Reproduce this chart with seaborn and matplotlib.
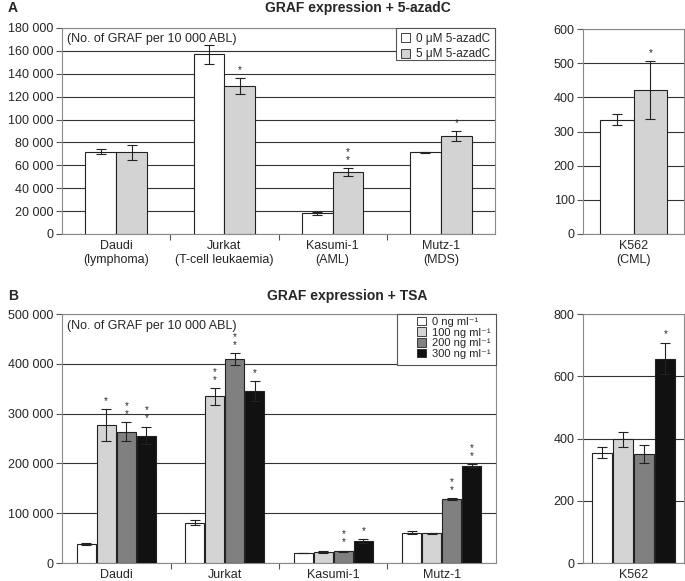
import pandas as pd
import matplotlib.pyplot as plt
import seaborn as sns
from matplotlib.ticker import FuncFormatter, FixedLocator, MultipleLocator
from matplotlib.patches import Patch, Rectangle
from matplotlib.container import BarContainer

sns.set_theme(style="white")
plt.rcParams['font.family'] = ['Liberation Sans', 'DejaVu Sans']

# ---- panel A: 5-azadC ----
cells_a = ["Daudi\n(lymphoma)", "Jurkat\n(T-cell leukaemia)", "Kasumi-1\n(AML)", "Mutz-1\n(MDS)"]
doses_a = ["0 μM 5-azadC", "5 μM 5-azadC"]
mean_a = [[72000, 157000, 18000, 71500],
          [71500, 129000, 54000, 85500]]
err_a = [[2500, 8500, 1500, 500],
         [6500, 7000, 3500, 4500]]
stars_a = [["", "", "", ""],
           ["", "*", "**", "*"]]
k562_a = ["K562\n(CML)"]
k562_mean_a = [[335], [422]]
k562_err_a = [[17], [85]]
k562_stars_a = [[""], ["*"]]
colors_a = ["white", "#d3d3d3"]

# ---- panel B: TSA ----
cells_b = ["Daudi", "Jurkat", "Kasumi-1", "Mutz-1"]
doses_b = ["0 ng ml⁻¹", "100 ng ml⁻¹", "200 ng ml⁻¹", "300 ng ml⁻¹"]
mean_b = [[38000, 81000, 20000, 61000],
          [277000, 335000, 22000, 60000],
          [264000, 410000, 24000, 129000],
          [256000, 346000, 45000, 195000]]
err_b = [[2000, 5000, 500, 3000],
         [32000, 17000, 2000, 1000],
         [20000, 12000, 1000, 2000],
         [18000, 20000, 4000, 3000]]
stars_b = [["", "", "", ""],
           ["*", "**", "", ""],
           ["**", "**", "**", "**"],
           ["**", "*", "*", "**"]]
k562_b = ["K562"]
k562_mean_b = [[355], [397], [350], [657]]
k562_err_b = [[18], [25], [30], [50]]
k562_stars_b = [[""], [""], [""], ["*"]]
colors_b = ["white", "#d4d4d4", "#808080", "#111111"]


def long_df(cells, doses, means):
    rows = []
    for h, d in enumerate(doses):
        for i, c in enumerate(cells):
            rows.append({"cell": c, "dose": d, "value": means[h][i]})
    return pd.DataFrame(rows)


def draw(ax, cells, doses, means, errs, stars, colors, width, gap, ymax, step, star_off):
    df = long_df(cells, doses, means)
    sns.barplot(data=df, x="cell", y="value", hue="dose", order=cells, hue_order=doses,
                palette=colors, width=width, gap=gap, errorbar=None, legend=False,
                edgecolor="#222222", linewidth=0.8, saturation=1, ax=ax, zorder=3)
    bar_conts = [c for c in ax.containers if isinstance(c, BarContainer)]
    for h, cont in enumerate(bar_conts):
        bars = sorted(cont.patches, key=lambda p: p.get_x())
        for i, bar in enumerate(bars):
            xc = bar.get_x() + bar.get_width() / 2
            yv = bar.get_height()
            e = errs[h][i]
            ax.errorbar(xc, yv, yerr=e, color="#222222", lw=0.8, capsize=3.5,
                        capthick=0.8, zorder=4)
            s = stars[h][i]
            if s:
                ax.text(xc, yv + e + star_off, "\n".join(s), ha="center", va="bottom",
                        fontsize=7, linespacing=0.75, zorder=7)
    ax.set_ylim(0, ymax)
    ax.yaxis.set_major_locator(MultipleLocator(step))
    ax.yaxis.set_major_formatter(FuncFormatter(lambda v, p: f"{int(v):,}".replace(",", " ")))
    ax.grid(axis="y", color="#333333", lw=0.8, zorder=0)
    ax.set_axisbelow(True)
    ax.set_xlabel("")
    ax.set_ylabel("")
    for sp in ax.spines.values():
        sp.set_color("#8a8a8a")
        sp.set_linewidth(0.8)
    ax.tick_params(axis="y", left=True, length=4, width=0.8, color="#555555",
                   labelsize=9, pad=2)
    ax.tick_params(axis="x", bottom=False, length=0, labelsize=9, pad=4)
    for lab in ax.get_xticklabels():
        lab.set_linespacing(1.25)
    n = len(cells)
    ax.set_xlim(-0.5, n - 0.5)
    if n > 1:
        ax.xaxis.set_minor_locator(FixedLocator([k + 0.5 for k in range(n - 1)]))
        ax.tick_params(axis="x", which="minor", bottom=True, length=4, width=0.8,
                       color="#555555")


fig = plt.figure(figsize=(6.85, 5.81), dpi=100)
W, H = 685, 581


def axes_px(x0, y0, x1, y1):
    return fig.add_axes([x0 / W, 1 - y1 / H, (x1 - x0) / W, (y1 - y0) / H])


axA = axes_px(62, 28, 495, 234)
axA2 = axes_px(583, 29, 684, 234)
axB = axes_px(62, 314, 496, 563)
axB2 = axes_px(583, 314, 684, 563)

draw(axA, cells_a, doses_a, mean_a, err_a, stars_a, colors_a, 0.57, 0, 180000, 20000, 2500)
draw(axA2, k562_a, doses_a, k562_mean_a, k562_err_a, k562_stars_a, colors_a, 0.67, 0, 600, 100, 8)
draw(axB, cells_b, doses_b, mean_b, err_b, stars_b, colors_b, 0.74, 0.06, 500000, 100000, 6000)
draw(axB2, k562_b, doses_b, k562_mean_b, k562_err_b, k562_stars_b, colors_b, 0.84, 0.04, 800, 200, 12)

for ax in (axA, axB):
    ax.text(0.012, 0.975, "(No. of GRAF per 10 000 ABL)", transform=ax.transAxes,
            ha="left", va="top", fontsize=9, zorder=6)


def legend_box(ax, x0, y0, x1, y1):
    # legend frame, in pixel coords of the figure
    bb = ax.get_position()
    ax0 = (x0 / W - bb.x0) / bb.width
    ax1 = (x1 / W - bb.x0) / bb.width
    ay0 = ((1 - y1 / H) - bb.y0) / bb.height
    ay1 = ((1 - y0 / H) - bb.y0) / bb.height
    ax.add_patch(Rectangle((ax0, ay0), ax1 - ax0, ay1 - ay0, transform=ax.transAxes,
                           facecolor="white", edgecolor="#555555", lw=0.8, zorder=5,
                           clip_on=False))
    return ax0, ay1


lx, ly = legend_box(axA, 396, 28, 495, 60)
legA = axA.legend(handles=[Patch(facecolor=c, edgecolor="#222222", lw=0.6, label=l)
                           for c, l in zip(colors_a, doses_a)],
                  loc="upper left", bbox_to_anchor=(lx, ly), fontsize=8.5, frameon=False,
                  borderaxespad=0, handlelength=0.8, handleheight=0.8,
                  handletextpad=0.5, labelspacing=0.3, borderpad=0.4)
legA.set_zorder(6)

lx, ly = legend_box(axB, 397, 314, 496, 365)
legB = axB.legend(handles=[Patch(facecolor=c, edgecolor="#222222", lw=0.6, label=l)
                           for c, l in zip(colors_b, doses_b)],
                  loc="upper right", bbox_to_anchor=(0.995, ly), fontsize=8, frameon=False,
                  borderaxespad=0, handlelength=0.8, handleheight=0.8,
                  handletextpad=0.6, labelspacing=0.05, borderpad=0.25,
                  alignment="right")
for t in legB.get_texts():
    t.set_ha("right")
legB.set_zorder(6)

fig.text(8 / W, 1 - 8 / H, "A", fontsize=10, fontweight="bold", va="center", ha="left")
fig.text(358 / W, 1 - 8 / H, "GRAF expression + 5-azadC", fontsize=10,
         fontweight="bold", va="center", ha="center")
fig.text(8 / W, 1 - 296 / H, "B", fontsize=10, fontweight="bold", va="center", ha="left")
fig.text(347 / W, 1 - 296 / H, "GRAF expression + TSA", fontsize=10,
         fontweight="bold", va="center", ha="center")

fig.savefig("out.png", dpi=100)
